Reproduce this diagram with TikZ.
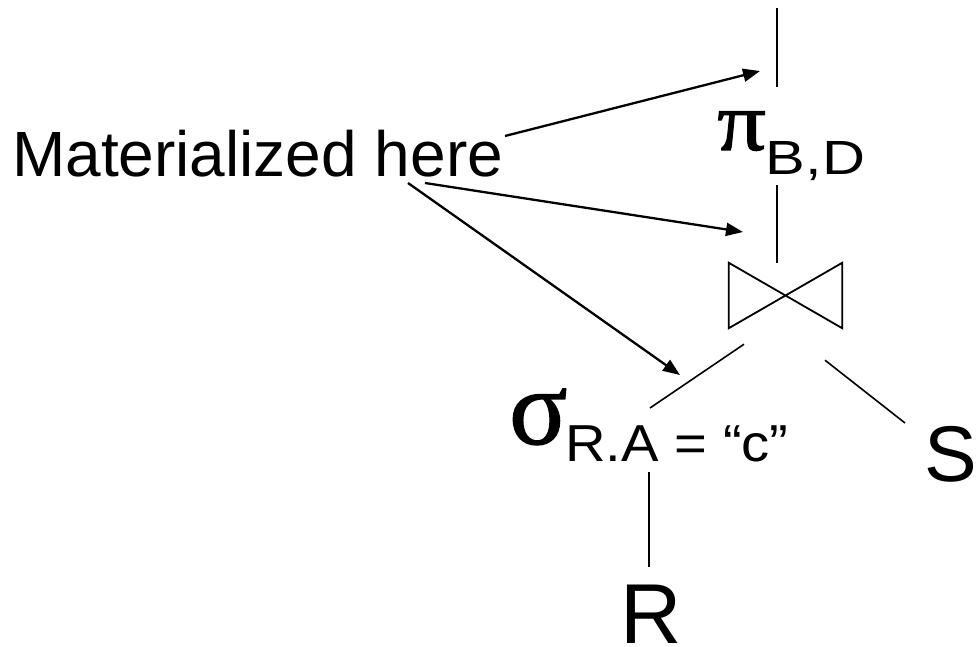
\documentclass[tikz,border=0pt]{standalone}
\usepackage{fontspec}
\setmainfont{Liberation Sans}
\newfontfamily\greekfont[FakeBold=1.2]{Liberation Serif}
\usepackage{tikz}
\usetikzlibrary{arrows.meta}

\newcommand{\opname}[2]{{\greekfont\fontsize{#1}{#1}\selectfont #2}}
\newcommand{\opsub}[4]{\raisebox{-#1pt}{\scalebox{#2}[1]{\fontsize{#3}{#3}\selectfont #4}}}

\begin{document}
\begin{tikzpicture}[x=1pt,y=-1pt]
  \tikzstyle{op} = [inner sep=0pt, anchor=base west]
  \tikzstyle{rel} = [op, font=\fontsize{84}{84}\selectfont]
  \tikzstyle{tree} = [line width=1.6pt]
  \tikzstyle{point} = [line width=2.3pt, -{Triangle[length=17pt,width=13pt]}]
  \useasboundingbox (0,0) rectangle (980,647);

  % Define nodes
  \node[op] (pi) at (717,150) {\scalebox{1.15}[1]{\opname{84}{π}}\opsub{25}{1.24}{48}{B,D}};
  \node[minimum width=113pt, minimum height=65pt, inner sep=0pt] (join) at (785.5,295.5) {};
  \node[op] (sigma) at (509,444) {\opname{108}{σ}\hspace{-2pt}\opsub{17}{1.08}{52}{R.A = “c”}};
  \node[rel, font=\fontsize{79}{79}\selectfont] (S) at (924,481) {S};
  \node[rel, font=\fontsize{85}{85}\selectfont] (R) at (620,643) {R};
  \node[op, font=\fontsize{64}{64}\selectfont] (note) at (12,177) {Materialized here};

  % result edge and the points that get stored
  \coordinate (out) at (777,8);
  \coordinate (m1) at (760,71);
  \coordinate (m2) at (743,232);
  \coordinate (m3) at (680,375);

  % join symbol
  \draw[line width=1.8pt, line join=miter]
    (join.north west) -- (join.south east) -- (join.north east)
    -- (join.south west) -- cycle;

  % plan edges
  \draw[tree] (out) -- ([shift={(60,-63)}]pi.base west);
  \draw[tree] (join.north -| out) -- ([shift={(60,35)}]pi.base west);
  \draw[tree] ([shift={(-41.5,16)}]join.south) -- ([shift={(141,-36)}]sigma.base west);
  \draw[tree] ([shift={(39.5,32)}]join.south) -- ([shift={(-19,-58)}]S.base west);
  \draw[tree] ([shift={(140,28)}]sigma.base west) -- ([shift={(29,-76)}]R.base west);

  \draw[point] ([shift={(493,-41)}]note.base west) -- (m1);
  \draw[point] ([shift={(413,6)}]note.base west) -- (m2);
  \draw[point] ([shift={(396,6)}]note.base west) -- (m3);
\end{tikzpicture}
\end{document}
